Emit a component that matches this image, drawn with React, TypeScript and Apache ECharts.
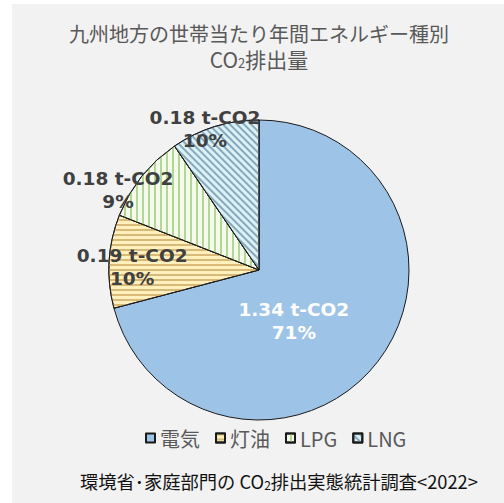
import React, { useEffect, useRef } from "react";
import * as echarts from "echarts";

// Household CO2 emissions by energy source, Kyushu region (t-CO2 per household per year)
const categories = ["電気", "灯油", "LPG", "LNG"];
const emissions = [1.34, 0.19, 0.18, 0.18];
const sharePercent = [71, 10, 9, 10];

const titleLine1 = "九州地方の世帯当たり年間エネルギー種別";
const sourceNote = "環境省･家庭部門の";

const JP_FONT = '"Noto Sans CJK JP", "Noto Sans", sans-serif';
const LABEL_FONT = '"DejaVu Sans", "Noto Sans", sans-serif';

// fill + hatch per slice
const sliceStyles = [
  { color: "#9dc3e6", decal: undefined as any },
  {
    color: "#fff0bd",
    decal: { symbol: "rect", symbolSize: 1, dashArrayX: [1, 0], dashArrayY: [2, 3], rotation: 0, color: "#d9b977" },
  },
  {
    color: "#f5fbea",
    decal: { symbol: "rect", symbolSize: 1, dashArrayX: [1, 0], dashArrayY: [2, 4], rotation: Math.PI / 2, color: "#b4d598" },
  },
  {
    color: "#dcf0f6",
    decal: { symbol: "rect", symbolSize: 1, dashArrayX: [1, 0], dashArrayY: [2, 2.5], rotation: Math.PI / 4, color: "#86a9bb" },
  },
];

// label nudges from the default inside anchor
const labelShift = [
  { dx: -27, dy: 3 },
  { dx: -49, dy: 2 },
  { dx: -80, dy: -31 },
  { dx: -31, dy: -66 },
];

// "CO2" with a lowered, smaller 2 (graphic text uses fill for colour)
const subscriptRich = (size: number, sub: number, fill: string) => ({
  a: { fontFamily: JP_FONT, fontSize: size, fill, verticalAlign: "bottom" },
  s: { fontFamily: JP_FONT, fontSize: sub, fill, verticalAlign: "bottom" },
});

export default function App() {
  const ref = useRef<HTMLDivElement>(null);

  useEffect(() => {
    if (!ref.current) return;
    const chart = echarts.init(ref.current, undefined, { renderer: "svg" });

    const data = categories.map((name, i) => ({
      name,
      value: emissions[i],
      itemStyle: {
        color: sliceStyles[i].color,
        decal: sliceStyles[i].decal,
        borderColor: "#1a1a1a",
        borderWidth: 1,
      },
      label: { color: i === 0 ? "#ffffff" : "#404040" },
    }));

    const titleFill = "#595959";

    chart.setOption({
      animation: false,
      backgroundColor: "#f2f2f2",
      graphic: [
        {
          // two-line title in one text block, each line centred
          type: "text",
          x: 247,
          y: 17,
          style: {
            text: "{t|" + titleLine1 + "}\n{a|CO}{s|2}{a|排出量}",
            rich: {
              t: { fontFamily: JP_FONT, fontSize: 20, fill: titleFill, lineHeight: 24, align: "center" },
              a: { fontFamily: JP_FONT, fontSize: 21, fill: titleFill, lineHeight: 24, align: "center", verticalAlign: "bottom" },
              s: { fontFamily: JP_FONT, fontSize: 13, fill: titleFill, lineHeight: 20, align: "center", verticalAlign: "bottom" },
            },
            align: "center",
            verticalAlign: "top",
          },
        },
        {
          type: "text",
          x: 68,
          y: 477,
          style: {
            text: "{a|" + sourceNote + " CO}{s|2}{a|排出実態統計調査<2022>}",
            rich: subscriptRich(18.3, 12, "#111111"),
            align: "left",
            verticalAlign: "middle",
          },
        },
      ],
      legend: {
        data: categories,
        orient: "horizontal",
        left: 128,
        top: 419,
        itemWidth: 9,
        itemHeight: 9,
        itemGap: 15,
        icon: "rect",
        textStyle: { fontFamily: JP_FONT, fontSize: 20, color: "#595959" },
      },
      series: [
        {
          type: "pie",
          center: [247, 266],
          radius: 150,
          startAngle: 90,
          clockwise: true,
          avoidLabelOverlap: false,
          data,
          label: {
            show: true,
            position: "inside",
            fontFamily: LABEL_FONT,
            fontSize: 18.5,
            fontWeight: "bold",
            lineHeight: 23,
            align: "center",
            formatter: (p: any) => `${p.value.toFixed(2)} t-CO2\n${sharePercent[p.dataIndex]}%`,
          },
          labelLine: { show: false },
          labelLayout: (p: any) => labelShift[p.dataIndex],
          emphasis: { disabled: true },
        },
      ],
    });

    return () => chart.dispose();
  }, []);

  return (
    <div
      ref={ref}
      style={{ position: "absolute", left: 12, top: 4, width: 492, height: 499 }}
    />
  );
}
